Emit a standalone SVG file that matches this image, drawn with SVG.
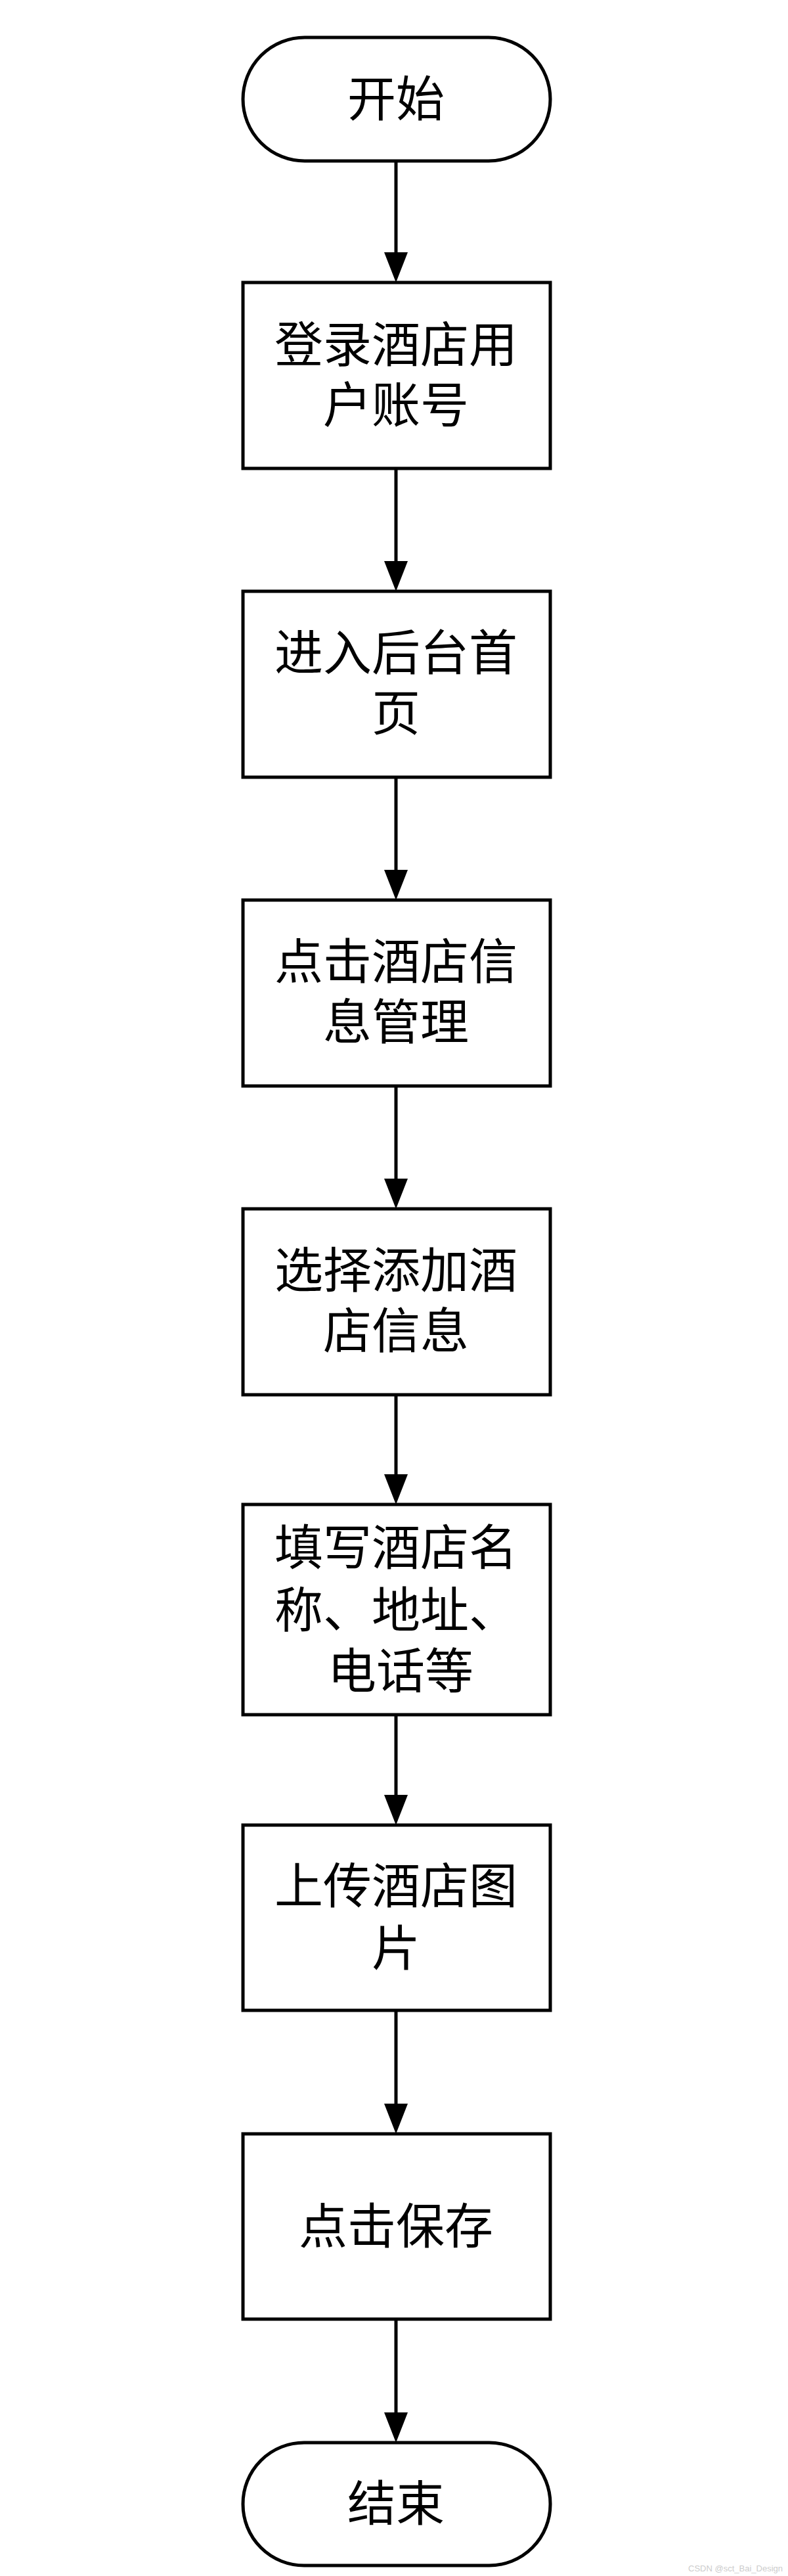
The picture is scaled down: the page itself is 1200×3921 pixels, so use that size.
<svg xmlns="http://www.w3.org/2000/svg" width="1200" height="3921" viewBox="0 0 1200 3921">
<style>
.n{fill:#fff;stroke:#000;stroke-width:5}
.t{font-family:"Noto Sans CJK SC","Noto Sans CJK JP",sans-serif;font-size:74px;fill:#000;text-anchor:middle}
.c{stroke:#000;stroke-width:5;fill:none}
</style>
<rect width="1200" height="3921" fill="#fff"/>
<g id="connectors">
<line class="c" x1="603" y1="245" x2="603" y2="384"/><polygon points="585,384 621,384 603,430"/>
<line class="c" x1="603" y1="713" x2="603" y2="854"/><polygon points="585,854 621,854 603,900"/>
<line class="c" x1="603" y1="1183" x2="603" y2="1324"/><polygon points="585,1324 621,1324 603,1370"/>
<line class="c" x1="603" y1="1653" x2="603" y2="1794"/><polygon points="585,1794 621,1794 603,1840"/>
<line class="c" x1="603" y1="2123" x2="603" y2="2244"/><polygon points="585,2244 621,2244 603,2290"/>
<line class="c" x1="603" y1="2610" x2="603" y2="2732"/><polygon points="585,2732 621,2732 603,2778"/>
<line class="c" x1="603" y1="3060" x2="603" y2="3202"/><polygon points="585,3202 621,3202 603,3248"/>
<line class="c" x1="603" y1="3530" x2="603" y2="3672"/><polygon points="585,3672 621,3672 603,3718"/>
</g>
<g id="start"><rect class="n" x="370" y="57" width="468" height="188" rx="94"/><text class="t" x="603" y="177">开始</text></g>
<g id="n1"><rect class="n" x="370" y="430" width="468" height="283"/><text class="t" x="603" y="551">登录酒店用</text><text class="t" x="603" y="643">户账号</text></g>
<g id="n2"><rect class="n" x="370" y="900" width="468" height="283"/><text class="t" x="603" y="1020">进入后台首</text><text class="t" x="603" y="1112">页</text></g>
<g id="n3"><rect class="n" x="370" y="1370" width="468" height="283"/><text class="t" x="603" y="1490">点击酒店信</text><text class="t" x="603" y="1582">息管理</text></g>
<g id="n4"><rect class="n" x="370" y="1840" width="468" height="283"/><text class="t" x="603" y="1960">选择添加酒</text><text class="t" x="603" y="2052">店信息</text></g>
<g id="n5"><rect class="n" x="370" y="2290" width="468" height="320"/><text class="t" x="603" y="2382">填写酒店名</text><text class="t" x="603" y="2477">称、地址、</text><text class="t" x="610" y="2570">电话等</text></g>
<g id="n6"><rect class="n" x="370" y="2778" width="468" height="282"/><text class="t" x="603" y="2897">上传酒店图</text><text class="t" x="603" y="2992">片</text></g>
<g id="n7"><rect class="n" x="370" y="3248" width="468" height="282"/><text class="t" x="603" y="3415">点击保存</text></g>
<g id="end"><rect class="n" x="370" y="3718" width="468" height="187" rx="93"/><text class="t" x="603" y="3837">结束</text></g>
<text x="1192" y="3914" font-family="Liberation Sans,sans-serif" font-size="13" fill="#ccc" text-anchor="end">CSDN @sct_Bai_Design</text>
</svg>
